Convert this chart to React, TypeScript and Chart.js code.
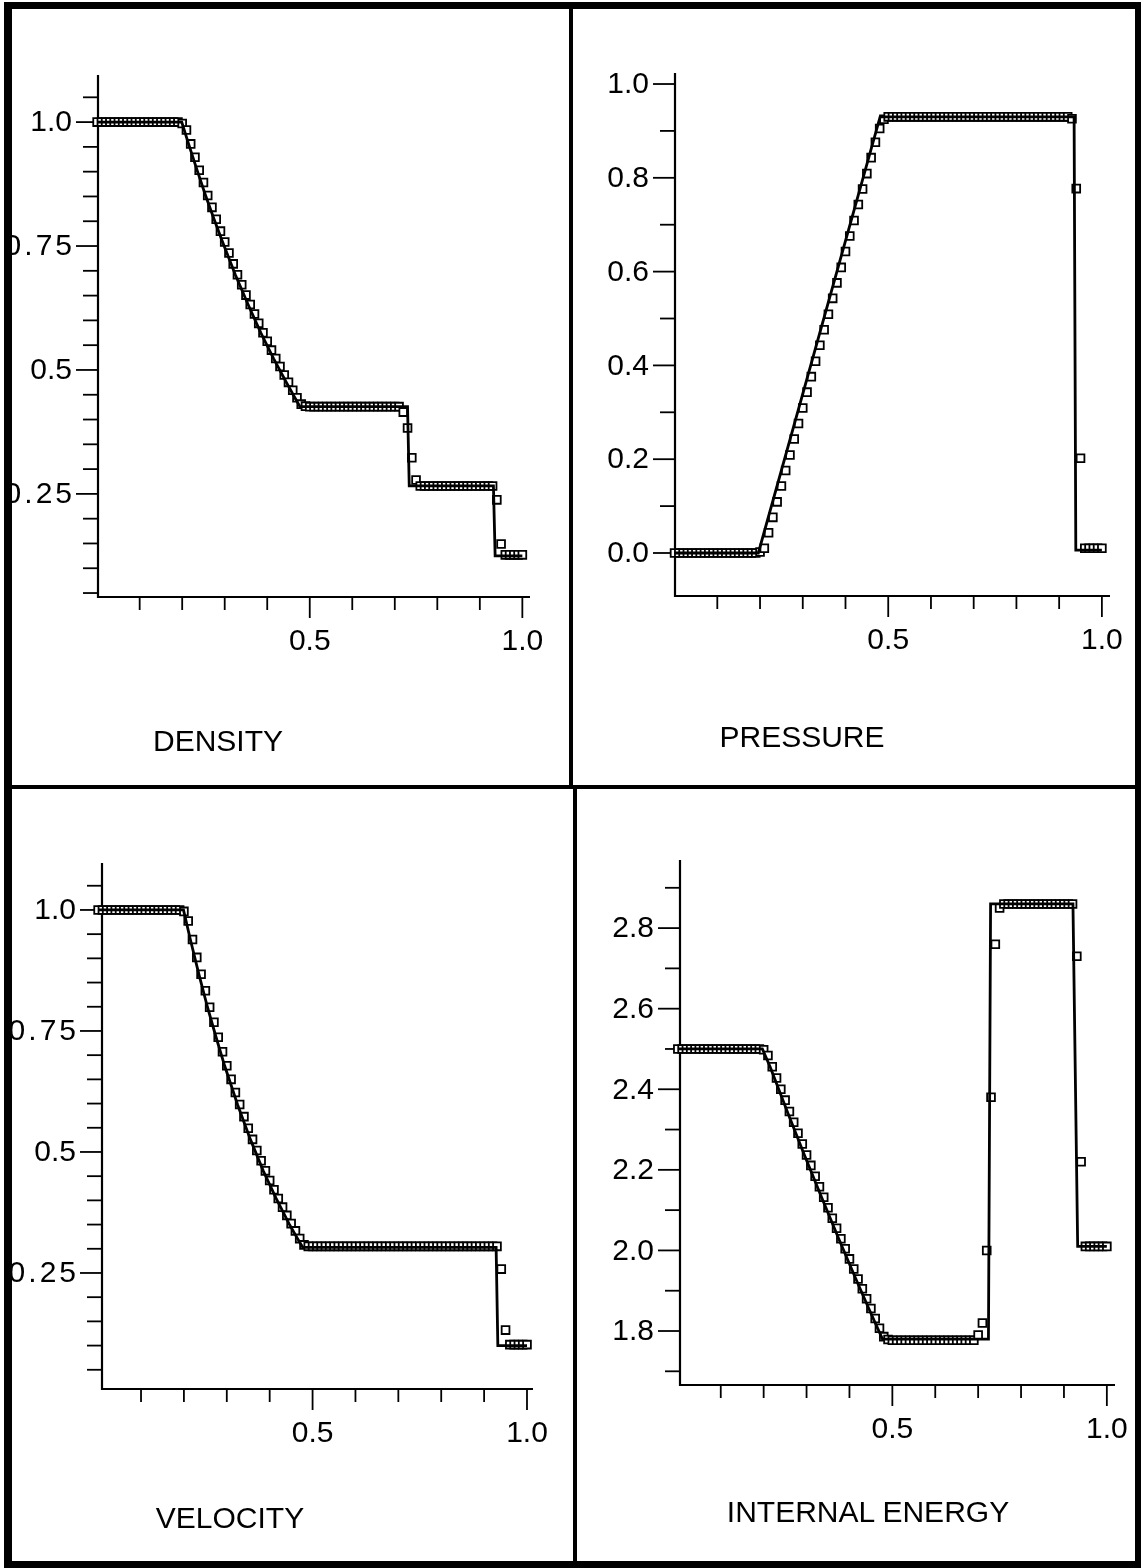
import React, { useEffect, useRef } from "react";
import { Chart, registerables } from "chart.js";

Chart.register(...registerables);

const W = 1141;
const H = 1568;

// ---------- data ----------
const X_NODES = [
  0.0, 0.01, 0.02, 0.03, 0.04, 0.05, 0.06, 0.07, 0.08, 0.09,
  0.1, 0.11, 0.12, 0.13, 0.14, 0.15, 0.16, 0.17, 0.18, 0.19,
  0.2, 0.21, 0.22, 0.23, 0.24, 0.25, 0.26, 0.27, 0.28, 0.29,
  0.3, 0.31, 0.32, 0.33, 0.34, 0.35, 0.36, 0.37, 0.38, 0.39,
  0.4, 0.41, 0.42, 0.43, 0.44, 0.45, 0.46, 0.47, 0.48, 0.49,
  0.5, 0.51, 0.52, 0.53, 0.54, 0.55, 0.56, 0.57, 0.58, 0.59,
  0.6, 0.61, 0.62, 0.63, 0.64, 0.65, 0.66, 0.67, 0.68, 0.69,
  0.7, 0.71, 0.72, 0.73, 0.74, 0.75, 0.76, 0.77, 0.78, 0.79,
  0.8, 0.81, 0.82, 0.83, 0.84, 0.85, 0.86, 0.87, 0.88, 0.89,
  0.9, 0.91, 0.92, 0.93, 0.94, 0.95, 0.96, 0.97, 0.98, 0.99,
  1.0,
];

const DENSITY_NUM = [
  1.0, 1.0, 1.0, 1.0, 1.0, 1.0, 1.0, 1.0, 1.0, 1.0,
  1.0, 1.0, 1.0, 1.0, 1.0, 1.0, 1.0, 1.0, 1.0, 1.0,
  0.997, 0.984, 0.956, 0.929, 0.903, 0.878, 0.852, 0.828, 0.804, 0.78,
  0.758, 0.736, 0.714, 0.692, 0.672, 0.651, 0.632, 0.613, 0.594, 0.575,
  0.558, 0.54, 0.523, 0.507, 0.49, 0.475, 0.459, 0.444, 0.431, 0.427,
  0.426, 0.426, 0.426, 0.426, 0.426, 0.426, 0.426, 0.426, 0.426, 0.426,
  0.426, 0.426, 0.426, 0.426, 0.426, 0.426, 0.426, 0.426, 0.426, 0.426,
  0.426, 0.426, 0.415, 0.383, 0.323, 0.278, 0.266, 0.266, 0.266, 0.266,
  0.266, 0.266, 0.266, 0.266, 0.266, 0.266, 0.266, 0.266, 0.266, 0.266,
  0.266, 0.266, 0.266, 0.266, 0.238, 0.149, 0.127, 0.127, 0.127, 0.127,
  0.127,
];
const DENSITY_EXACT_X = [0, 0.199, 0.215, 0.235, 0.255, 0.275, 0.295, 0.325, 0.355, 0.385, 0.415, 0.445, 0.465, 0.477, 0.73, 0.734, 0.932, 0.936, 1.0];
const DENSITY_EXACT_Y = [1.0, 1.0, 0.956, 0.903, 0.852, 0.804, 0.758, 0.692, 0.632, 0.575, 0.523, 0.475, 0.444, 0.426, 0.426, 0.266, 0.266, 0.125, 0.125];

const PRESSURE_NUM = [
  0.0, 0.0, 0.0, 0.0, 0.0, 0.0, 0.0, 0.0, 0.0, 0.0,
  0.0, 0.0, 0.0, 0.0, 0.0, 0.0, 0.0, 0.0, 0.0, 0.0,
  0.002, 0.01, 0.043, 0.076, 0.109, 0.143, 0.176, 0.209, 0.243, 0.276,
  0.309, 0.343, 0.376, 0.409, 0.443, 0.476, 0.509, 0.543, 0.576, 0.609,
  0.643, 0.676, 0.709, 0.743, 0.776, 0.809, 0.843, 0.876, 0.905, 0.925,
  0.93, 0.93, 0.93, 0.93, 0.93, 0.93, 0.93, 0.93, 0.93, 0.93,
  0.93, 0.93, 0.93, 0.93, 0.93, 0.93, 0.93, 0.93, 0.93, 0.93,
  0.93, 0.93, 0.93, 0.93, 0.93, 0.93, 0.93, 0.93, 0.93, 0.93,
  0.93, 0.93, 0.93, 0.93, 0.93, 0.93, 0.93, 0.93, 0.93, 0.93,
  0.93, 0.93, 0.93, 0.926, 0.777, 0.202, 0.01, 0.01, 0.01, 0.01,
  0.01,
];
const PRESSURE_EXACT_X = [0, 0.196, 0.481, 0.935, 0.939, 1.0];
const PRESSURE_EXACT_Y = [0.0, 0.0, 0.93, 0.93, 0.006, 0.006];

const VELOCITY_NUM = [
  1.0, 1.0, 1.0, 1.0, 1.0, 1.0, 1.0, 1.0, 1.0, 1.0,
  1.0, 1.0, 1.0, 1.0, 1.0, 1.0, 1.0, 1.0, 1.0, 1.0,
  0.997, 0.977, 0.939, 0.902, 0.867, 0.833, 0.799, 0.768, 0.737, 0.707,
  0.678, 0.65, 0.623, 0.598, 0.573, 0.549, 0.526, 0.503, 0.482, 0.461,
  0.441, 0.422, 0.404, 0.386, 0.369, 0.352, 0.337, 0.321, 0.308, 0.305,
  0.305, 0.305, 0.305, 0.305, 0.305, 0.305, 0.305, 0.305, 0.305, 0.305,
  0.305, 0.305, 0.305, 0.305, 0.305, 0.305, 0.305, 0.305, 0.305, 0.305,
  0.305, 0.305, 0.305, 0.305, 0.305, 0.305, 0.305, 0.305, 0.305, 0.305,
  0.305, 0.305, 0.305, 0.305, 0.305, 0.305, 0.305, 0.305, 0.305, 0.305,
  0.305, 0.305, 0.305, 0.305, 0.258, 0.132, 0.102, 0.102, 0.102, 0.102,
  0.102,
];
const VELOCITY_EXACT_X = [0, 0.199, 0.215, 0.235, 0.255, 0.275, 0.295, 0.325, 0.355, 0.385, 0.415, 0.445, 0.465, 0.477, 0.928, 0.932, 1.0];
const VELOCITY_EXACT_Y = [1.0, 1.0, 0.939, 0.867, 0.799, 0.737, 0.678, 0.598, 0.526, 0.461, 0.404, 0.352, 0.321, 0.303, 0.303, 0.1, 0.1];

const ENERGY_NUM = [
  2.5, 2.5, 2.5, 2.5, 2.5, 2.5, 2.5, 2.5, 2.5, 2.5,
  2.5, 2.5, 2.5, 2.5, 2.5, 2.5, 2.5, 2.5, 2.5, 2.5,
  2.498, 2.484, 2.456, 2.428, 2.4, 2.373, 2.345, 2.318, 2.291, 2.264,
  2.237, 2.211, 2.184, 2.158, 2.132, 2.106, 2.08, 2.055, 2.029, 2.004,
  1.979, 1.954, 1.929, 1.905, 1.88, 1.856, 1.831, 1.807, 1.786, 1.779,
  1.777, 1.777, 1.777, 1.777, 1.777, 1.777, 1.777, 1.777, 1.777, 1.777,
  1.777, 1.777, 1.777, 1.777, 1.777, 1.777, 1.777, 1.777, 1.777, 1.777,
  1.79, 1.82, 2.0, 2.38, 2.76, 2.85, 2.86, 2.86, 2.86, 2.86,
  2.86, 2.86, 2.86, 2.86, 2.86, 2.86, 2.86, 2.86, 2.86, 2.86,
  2.86, 2.86, 2.86, 2.73, 2.22, 2.01, 2.01, 2.01, 2.01, 2.01,
  2.01,
];
const ENERGY_EXACT_X = [0, 0.197, 0.215, 0.255, 0.295, 0.335, 0.375, 0.415, 0.445, 0.477, 0.724, 0.729, 0.921, 0.932, 1.0];
const ENERGY_EXACT_Y = [2.5, 2.5, 2.456, 2.345, 2.237, 2.132, 2.029, 1.929, 1.856, 1.78, 1.78, 2.86, 2.86, 2.01, 2.01];

// tick values / labels
const X_MINOR = [0.1, 0.2, 0.3, 0.4, 0.6, 0.7, 0.8, 0.9];
const X_MAJOR = [0.5, 1.0];
const X_LABELS = ["0.5", "1.0"];

const Q_MAJOR = [0.25, 0.5, 0.75, 1.0];
const Q_LABELS = ["0.25", "0.5", "0.75", "1.0"];
const Q_MINOR = [0.05, 0.1, 0.15, 0.2, 0.3, 0.35, 0.4, 0.45, 0.55, 0.6, 0.65, 0.7, 0.8, 0.85, 0.9, 0.95, 1.05];

const P_MAJOR = [0.0, 0.2, 0.4, 0.6, 0.8, 1.0];
const P_LABELS = ["0.0", "0.2", "0.4", "0.6", "0.8", "1.0"];
const P_MINOR = [0.1, 0.3, 0.5, 0.7, 0.9];

const E_MAJOR = [1.8, 2.0, 2.2, 2.4, 2.6, 2.8];
const E_LABELS = ["1.8", "2.0", "2.2", "2.4", "2.6", "2.8"];
const E_MINOR = [1.7, 1.9, 2.1, 2.3, 2.5, 2.7, 2.9];

const TITLES = ["DENSITY", "PRESSURE", "VELOCITY", "INTERNAL ENERGY"];

const FONT = '"Liberation Sans", Arial, Helvetica, sans-serif';

type Spec = {
  num: number[];
  exX: number[];
  exY: number[];
  plot: [number, number, number, number];
  xMin: number;
  xMax: number;
  yMin: number;
  yMax: number;
  yMajor: number[];
  yLabels: string[];
  yMinor: number[];
};

const SPECS: Spec[] = [
  {
    num: DENSITY_NUM, exX: DENSITY_EXACT_X, exY: DENSITY_EXACT_Y,
    plot: [98, 75, 530, 597], xMin: 0.002, xMax: 1.018, yMin: 0.042, yMax: 1.095,
    yMajor: Q_MAJOR, yLabels: Q_LABELS, yMinor: Q_MINOR,
  },
  {
    num: PRESSURE_NUM, exX: PRESSURE_EXACT_X, exY: PRESSURE_EXACT_Y,
    plot: [675, 73, 1110, 596], xMin: 0.001, xMax: 1.019, yMin: -0.0917, yMax: 1.0235,
    yMajor: P_MAJOR, yLabels: P_LABELS, yMinor: P_MINOR,
  },
  {
    num: VELOCITY_NUM, exX: VELOCITY_EXACT_X, exY: VELOCITY_EXACT_Y,
    plot: [102, 863, 533, 1389], xMin: 0.009, xMax: 1.014, yMin: 0.0103, yMax: 1.097,
    yMajor: Q_MAJOR, yLabels: Q_LABELS, yMinor: Q_MINOR,
  },
  {
    num: ENERGY_NUM, exX: ENERGY_EXACT_X, exY: ENERGY_EXACT_Y,
    plot: [680, 860, 1115, 1385], xMin: 0.005, xMax: 1.019, yMin: 1.666, yMax: 2.969,
    yMajor: E_MAJOR, yLabels: E_LABELS, yMinor: E_MINOR,
  },
];

const TITLE_POS: [number, number][] = [
  [218, 741],
  [802, 737],
  [230, 1518],
  [868, 1512],
];

function makeAxisPlugin(spec: Spec) {
  return {
    id: "paperAxes",
    beforeDatasetsDraw(chart: any) {
      const { ctx, chartArea: a } = chart;
      const xs = chart.scales.x;
      const ys = chart.scales.y;
      ctx.save();
      ctx.strokeStyle = "#000";
      ctx.lineWidth = 2.2;
      ctx.lineCap = "butt";
      ctx.beginPath();
      ctx.moveTo(a.left, a.top);
      ctx.lineTo(a.left, a.bottom);
      ctx.lineTo(a.right, a.bottom);
      ctx.stroke();
      ctx.lineWidth = 1.8;
      const tick = (x1: number, y1: number, x2: number, y2: number) => {
        ctx.beginPath();
        ctx.moveTo(x1, y1);
        ctx.lineTo(x2, y2);
        ctx.stroke();
      };
      spec.yMinor.forEach((v) => {
        const p = ys.getPixelForValue(v);
        tick(a.left - 15, p, a.left, p);
      });
      spec.yMajor.forEach((v) => {
        const p = ys.getPixelForValue(v);
        tick(a.left - 22, p, a.left, p);
      });
      X_MINOR.forEach((v) => {
        const p = xs.getPixelForValue(v);
        tick(p, a.bottom, p, a.bottom + 13);
      });
      X_MAJOR.forEach((v) => {
        const p = xs.getPixelForValue(v);
        tick(p, a.bottom, p, a.bottom + 21);
      });
      ctx.fillStyle = "#000";
      ctx.font = "30px " + FONT;
      ctx.textAlign = "right";
      ctx.textBaseline = "middle";
      spec.yMajor.forEach((v, i) => {
        const label = spec.yLabels[i];
        const wide = label.length > 3;
        (ctx as any).letterSpacing = wide ? "3px" : "0px";
        ctx.fillText(label, a.left - (wide ? 23 : 26), ys.getPixelForValue(v) + 1);
      });
      (ctx as any).letterSpacing = "0px";
      ctx.textAlign = "center";
      X_MAJOR.forEach((v, i) => {
        ctx.fillText(X_LABELS[i], xs.getPixelForValue(v), a.bottom + 45);
      });
      ctx.restore();
    },
  };
}

function Panel({ spec }: { spec: Spec }) {
  const ref = useRef<HTMLCanvasElement>(null);
  useEffect(() => {
    if (!ref.current) return;
    const chart = new Chart(ref.current, {
      type: "scatter",
      data: {
        datasets: [
          {
            data: spec.exX.map((x, i) => ({ x, y: spec.exY[i] })),
            showLine: true,
            borderColor: "#000",
            borderWidth: 2.8,
            pointRadius: 0,
            tension: 0,
            order: 0,
            clip: false as any,
          },
          {
            data: X_NODES.map((x, i) => ({ x, y: spec.num[i] })),
            showLine: false,
            pointStyle: "rect",
            pointRadius: 5.5,
            borderWidth: 1.8,
            borderColor: "#000",
            backgroundColor: "#fff",
            order: 1,
            clip: false as any,
          },
        ],
      },
      options: {
        responsive: false,
        animation: false,
        events: [],
        layout: {
          padding: {
            left: spec.plot[0],
            top: spec.plot[1],
            right: W - spec.plot[2],
            bottom: H - spec.plot[3],
          },
        },
        scales: {
          x: { type: "linear", min: spec.xMin, max: spec.xMax, display: false },
          y: { type: "linear", min: spec.yMin, max: spec.yMax, display: false },
        },
        plugins: {
          legend: { display: false },
          tooltip: { enabled: false },
        },
      },
      plugins: [makeAxisPlugin(spec)],
    } as any);
    return () => chart.destroy();
  }, [spec]);
  return (
    <canvas
      ref={ref}
      width={W}
      height={H}
      style={{ position: "absolute", left: 0, top: 0, width: W, height: H }}
    />
  );
}

const BORDERS: [number, number, number, number][] = [
  [4, 2, 1137, 7],
  [4, 2, 8, 1566],
  [1135, 2, 6, 1566],
  [4, 1561, 1137, 7],
  [569, 2, 4, 787],
  [573, 787, 4, 781],
  [4, 785, 1137, 4],
];

export default function App() {
  return (
    <div
      style={{
        position: "absolute",
        left: 0,
        top: 0,
        width: W,
        height: H,
        background: "#fff",
        overflow: "hidden",
      }}
    >
      {SPECS.map((s, i) => (
        <Panel key={i} spec={s} />
      ))}
      {TITLES.map((t, i) => (
        <div
          key={t}
          style={{
            position: "absolute",
            left: TITLE_POS[i][0],
            top: TITLE_POS[i][1],
            transform: "translate(-50%, -50%)",
            fontFamily: FONT,
            fontSize: 30,
            lineHeight: 1,
            whiteSpace: "nowrap",
            color: "#000",
            zIndex: 3,
          }}
        >
          {t}
        </div>
      ))}
      {BORDERS.map((b, i) => (
        <div
          key={i}
          style={{
            position: "absolute",
            left: b[0],
            top: b[1],
            width: b[2],
            height: b[3],
            background: "#000",
            zIndex: 4,
          }}
        />
      ))}
    </div>
  );
}
